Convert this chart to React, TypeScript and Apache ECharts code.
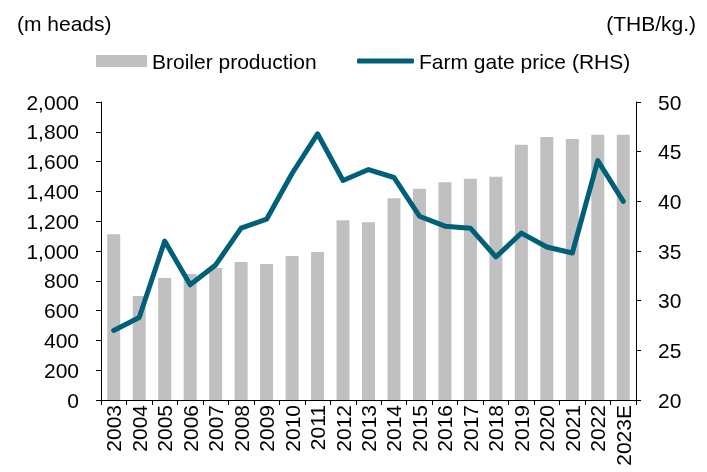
import React, { useEffect, useRef } from "react";
import * as echarts from "echarts";

const years = ["2003","2004","2005","2006","2007","2008","2009","2010","2011","2012","2013","2014","2015","2016","2017","2018","2019","2020","2021","2022","2023E"];
const broilerProduction = [1112, 698, 818, 846, 886, 926, 913, 966, 993, 1206, 1193, 1354, 1418, 1461, 1485, 1499, 1713, 1765, 1752, 1780, 1780];
const farmGatePrice = [27.0, 28.3, 36.0, 31.6, 33.6, 37.3, 38.2, 42.8, 46.8, 42.1, 43.2, 42.4, 38.5, 37.5, 37.3, 34.4, 36.8, 35.4, 34.8, 44.1, 40.0];
const leftUnit = "(m heads)";
const rightUnit = "(THB/kg.)";
const barName = "Broiler production";
const lineName = "Farm gate price (RHS)";

const FONT = "'Liberation Sans', Arial, sans-serif";
const FS = 21;
const LINE_COLOR = "#006078";

export default function App() {
  const ref = useRef<HTMLDivElement>(null);
  useEffect(() => {
    if (!ref.current) return;
    const chart = echarts.init(ref.current, null, { renderer: "svg" });
    chart.setOption({
      animation: false,
      textStyle: { fontFamily: FONT, color: "#000" },
      title: [
        { text: leftUnit, left: 12, top: 8, textStyle: { fontFamily: FONT, fontSize: FS, fontWeight: "normal", color: "#000" } },
        { text: rightUnit, right: 6, top: 8, textStyle: { fontFamily: FONT, fontSize: FS, fontWeight: "normal", color: "#000" } },
      ],
      legend: [
        {
          data: [{ name: barName, icon: "rect" }],
          left: 96, top: 49, padding: 0, itemWidth: 51, itemHeight: 12, itemGap: 0,
          textStyle: { fontFamily: FONT, fontSize: FS, color: "#000", lineHeight: 24 },
          selectedMode: false,
        },
        {
          data: [{ name: lineName, icon: "roundRect" }],
          left: 357, top: 49, padding: 0, itemWidth: 57, itemHeight: 5, itemGap: 0,
          textStyle: { fontFamily: FONT, fontSize: FS, color: "#000", lineHeight: 24 },
          itemStyle: { color: LINE_COLOR },
          selectedMode: false,
        },
      ],
      grid: { left: 101, right: 71, top: 102, bottom: 72, containLabel: false },
      xAxis: {
        type: "category",
        data: years,
        boundaryGap: true,
        axisLine: { lineStyle: { color: "#000", width: 1 } },
        axisTick: { show: true, length: 5, alignWithLabel: false, lineStyle: { color: "#000" } },
        axisLabel: { rotate: 90, interval: 0, margin: 5, fontFamily: FONT, fontSize: FS, color: "#000" },
      },
      yAxis: [
        {
          type: "value", min: 0, max: 2000, interval: 200, position: "left",
          axisLine: { show: true, lineStyle: { color: "#000", width: 1 } },
          axisTick: { show: true, length: 5, lineStyle: { color: "#000" } },
          splitLine: { show: false },
          axisLabel: {
            margin: 22, fontFamily: FONT, fontSize: FS, color: "#000",
            formatter: (v: number) => v.toLocaleString("en-US"),
          },
        },
        {
          type: "value", min: 20, max: 50, interval: 5, position: "right",
          axisLine: { show: true, lineStyle: { color: "#000", width: 1 } },
          axisTick: { show: true, length: 5, lineStyle: { color: "#000" } },
          splitLine: { show: false },
          axisLabel: { margin: 22, fontFamily: FONT, fontSize: FS, color: "#000" },
        },
      ],
      series: [
        {
          name: barName, type: "bar", data: broilerProduction, yAxisIndex: 0,
          barWidth: 13, itemStyle: { color: "#c0c0c0" },
        },
        {
          name: lineName, type: "line", data: farmGatePrice, yAxisIndex: 1,
          symbol: "none", showSymbol: false,
          lineStyle: { color: LINE_COLOR, width: 5, cap: "round", join: "round" },
          itemStyle: { color: LINE_COLOR },
        },
      ],
    });
    return () => chart.dispose();
  }, []);
  return <div ref={ref} style={{ position: "fixed", left: 0, top: 0, width: 707, height: 472 }} />;
}
